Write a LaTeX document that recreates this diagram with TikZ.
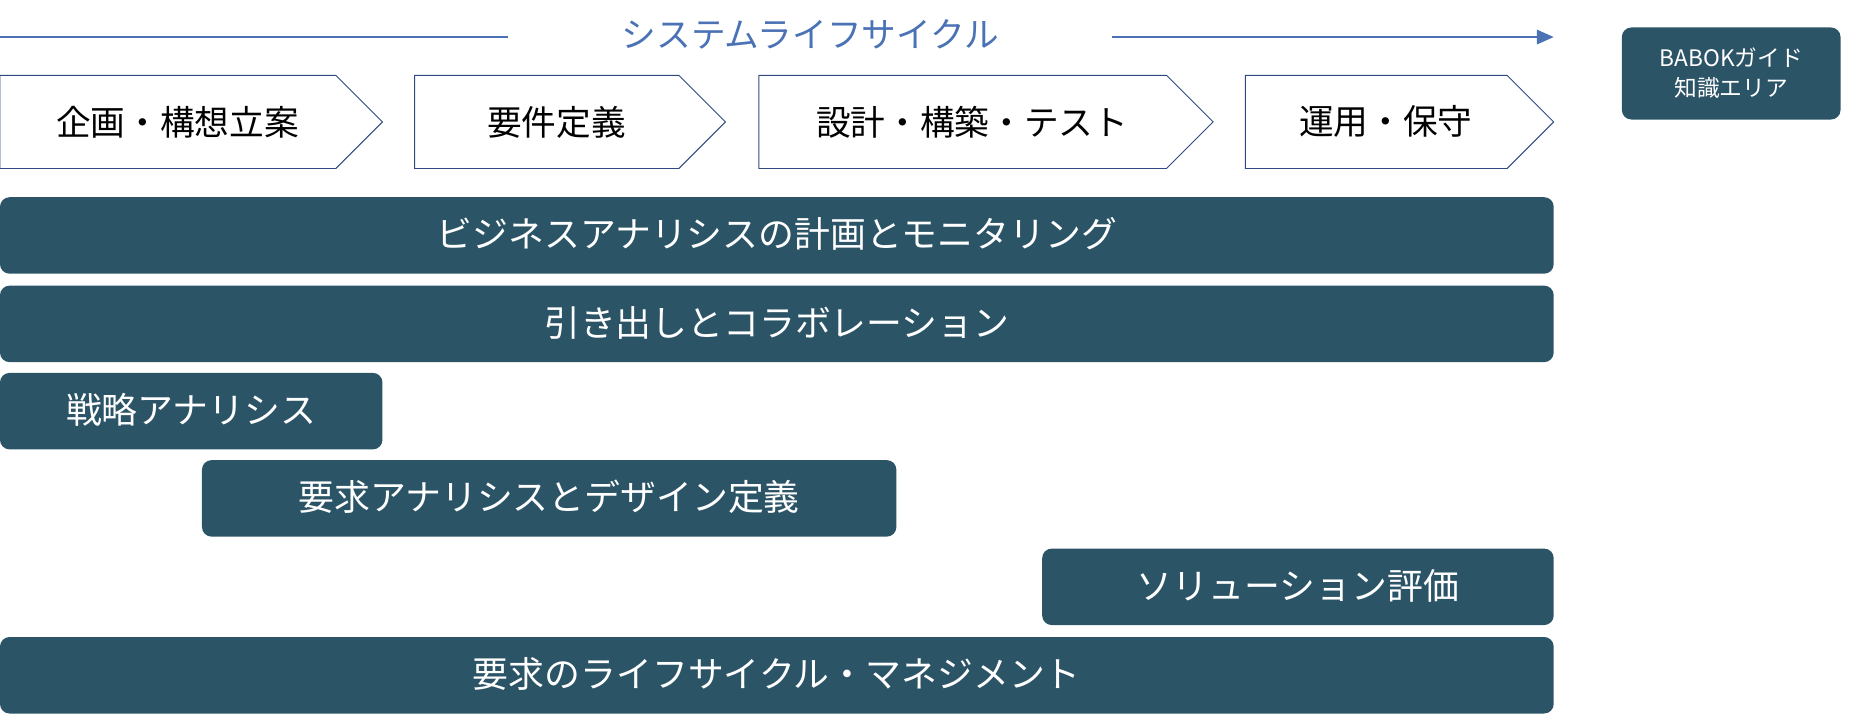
\documentclass[tikz,border=0pt]{standalone}
\usepackage{fontspec}
\setmainfont{Noto Sans CJK JP}
\usetikzlibrary{arrows.meta}
\definecolor{bar}{HTML}{2C5467}
\definecolor{ttl}{HTML}{4A72B5}
\definecolor{chev}{HTML}{2F4A80}
\begin{document}
\begin{tikzpicture}[x=1pt,y=-1pt,
 barbox/.style={fill=bar,rounded corners=7pt,text=white,font=\fontsize{30}{34}\selectfont},
 chevtxt/.style={font=\fontsize{29}{33}\selectfont}]
\useasboundingbox (0,0) rectangle (1568,607);
\node[text=ttl,font=\fontsize{29}{33}\selectfont] (title) at (678,29) {システムライフサイクル};
\coordinate (l0) at (0,31); \coordinate (r1) at (1300,31);
\draw[ttl,line width=1.5pt] (l0) -- (425,31);
\draw[ttl,line width=1.5pt,-{Triangle[length=14pt,width=12pt]}] (930,31) -- (r1);
\foreach \a/\b/\t/\n in {0/320/企画・構想立案/c1,347/607/要件定義/c2,635/1015/設計・構築・テスト/c3,1042/1300/運用・保守/c4}{
 \draw[chev,line width=0.8pt,fill=white] (\a,63) -- (\b-39,63) -- (\b,102) -- (\b-39,141) -- (\a,141) -- cycle;
 \node[chevtxt] (\n) at ({(\a+\b-39)/2+8},102) {\t};
}
\fill[bar,rounded corners=8pt] (1357,23) rectangle (1540,100);
\node[text=white,align=center,font=\fontsize{19}{25}\selectfont] (babok) at (1448.5,61) {BABOKガイド\\知識エリア};
\foreach \a/\b/\y/\t/\n in {0/1300/165/ビジネスアナリシスの計画とモニタリング/b1,0/1300/239/引き出しとコラボレーション/b2,0/320/312/戦略アナリシス/b3,169/750/385/要求アナリシスとデザイン定義/b4,872/1300/459/ソリューション評価/b5,0/1300/533/要求のライフサイクル・マネジメント/b6}{
 \fill[bar,rounded corners=8pt] (\a,\y) rectangle (\b,\y+64);
 \node[text=white,font=\fontsize{30}{34}\selectfont] (\n) at ({(\a+\b)/2},\y+31) {\t};
}
\end{tikzpicture}
\end{document}
